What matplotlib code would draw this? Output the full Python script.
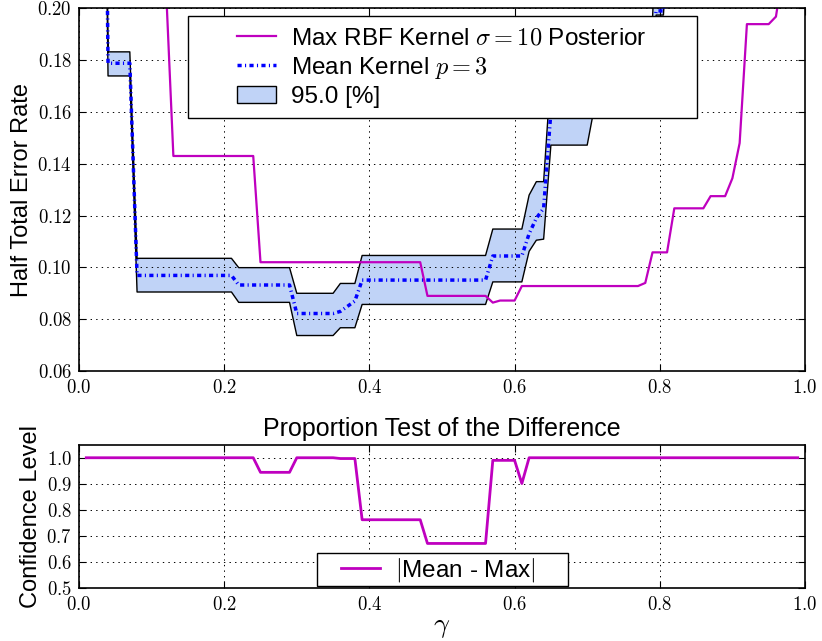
import numpy as np
import matplotlib
matplotlib.use("Agg")
import matplotlib.pyplot as plt
from matplotlib.patches import Rectangle
from matplotlib.ticker import FormatStrFormatter, MultipleLocator

# --- top panel: half total error rate vs gamma ---
max_g = [0.11, 0.12, 0.13, 0.24, 0.25, 0.47, 0.48, 0.56, 0.57, 0.58, 0.60, 0.61, 0.77,
         0.78, 0.79, 0.81, 0.82, 0.86, 0.87, 0.89, 0.90, 0.91, 0.92, 0.95, 0.96, 0.97]
max_hter = [0.32, 0.207, 0.143, 0.143, 0.102, 0.102, 0.089, 0.089, 0.0864, 0.0872, 0.0872,
            0.0928, 0.0928, 0.0940, 0.1058, 0.1058, 0.1228, 0.1228, 0.1275, 0.1275, 0.1344,
            0.148, 0.1939, 0.1939, 0.1968, 0.215]

band_g = [0.03, 0.04, 0.07, 0.08, 0.21, 0.22, 0.29, 0.30, 0.35, 0.36, 0.37, 0.38, 0.39, 0.56,
          0.57, 0.61, 0.62, 0.63, 0.64, 0.65, 0.70, 0.71, 0.79, 0.795, 0.805, 0.81, 1.0]
mean_lo = [0.40, 0.1739, 0.1739, 0.0905, 0.0905, 0.0865, 0.0865, 0.0737, 0.0737, 0.0767, 0.0767,
           0.0767, 0.0857, 0.0857, 0.0944, 0.0944, 0.1062, 0.1105, 0.1109, 0.1472, 0.1472, 0.162,
           0.185, 0.1974, 0.1974, 0.22, 0.25]
mean_hter = [0.45, 0.1788, 0.1788, 0.0969, 0.0969, 0.0932, 0.0932, 0.0822, 0.0822, 0.0830, 0.0850,
             0.0870, 0.0951, 0.0951, 0.1044, 0.1044, 0.1130, 0.1190, 0.1228, 0.160, 0.170, 0.175,
             0.190, 0.199, 0.199, 0.24, 0.27]
mean_hi = [0.50, 0.1832, 0.1832, 0.1035, 0.1035, 0.0999, 0.0999, 0.0900, 0.0900, 0.0938, 0.0938,
           0.0938, 0.1046, 0.1046, 0.1148, 0.1148, 0.1279, 0.1331, 0.1331, 0.175, 0.19, 0.195,
           0.196, 0.23, 0.23, 0.26, 0.29]

# --- bottom panel: proportion test confidence ---
conf_g = [0.01, 0.24, 0.25, 0.29, 0.30, 0.35, 0.36, 0.38, 0.39, 0.47, 0.48, 0.56, 0.57, 0.60,
          0.61, 0.62, 0.99]
conf = [1.0, 1.0, 0.944, 0.944, 1.0, 1.0, 0.997, 0.997, 0.762, 0.762, 0.671, 0.671, 0.990, 0.990,
        0.901, 1.0, 1.0]

MAG = "#bf00bf"
FILL = "#c0d3f7"

plt.rcParams.update({
    "font.family": ["Liberation Sans", "DejaVu Sans"],
    "mathtext.fontset": "cm",
    "lines.scale_dashes": False,
    "xtick.direction": "in", "ytick.direction": "in",
    "xtick.top": True, "ytick.right": True,
    "xtick.major.size": 5, "ytick.major.size": 5,
    "axes.linewidth": 1.2,
})

fig = plt.figure(figsize=(8.22, 6.41), dpi=100)
ax = fig.add_axes([0.0961, 0.4212, 0.8832, 0.5658])
ax2 = fig.add_axes([0.0961, 0.0827, 0.8832, 0.2235])

ax.fill_between(band_g, mean_lo, mean_hi, facecolor=FILL, edgecolor="k", lw=1.0,
                zorder=1, label="95.0 [%]")
ax.plot(max_g, max_hter, color=MAG, lw=1.6, zorder=2,
        label=r"Max RBF Kernel $\sigma=10$ Posterior")
ax.plot(band_g, mean_hter, color="b", lw=2.5, ls=(0, (3.0, 2.4, 0.8, 2.4)), zorder=3,
        label=r"Mean Kernel $p=3$")

ax.set_xlim(0, 1)
ax.set_ylim(0.06, 0.20)
ax.yaxis.set_major_locator(MultipleLocator(0.02))
ax.xaxis.set_major_locator(MultipleLocator(0.2))
ax.yaxis.set_major_formatter(FormatStrFormatter(r"$%.2f$"))
ax.xaxis.set_major_formatter(FormatStrFormatter(r"$%.1f$"))
ax.set_ylabel("Half Total Error Rate", fontsize=17, labelpad=3)
ax.grid(True, color="k", ls=(0, (1, 3)), lw=0.7)

h, l = ax.get_legend_handles_labels()
order = [1, 2, 0]
ax.add_patch(Rectangle((0.150, 0.6984), 0.701, 0.2804, transform=ax.transAxes,
                       facecolor="white", edgecolor="k", lw=1.0, zorder=4))
ax.legend([h[i] for i in order], [l[i] for i in order], loc="upper center",
          bbox_to_anchor=(0.5, 0.948), frameon=False, fontsize=17.5, borderpad=0,
          borderaxespad=0, handlelength=1.58, handletextpad=0.62, labelspacing=0.22)

ax2.plot(conf_g, conf, color=MAG, lw=2.0, label=r"$|$Mean - Max$|$")
ax2.set_xlim(0, 1)
ax2.set_ylim(0.5, 1.05)
ax2.yaxis.set_major_locator(MultipleLocator(0.1))
ax2.xaxis.set_major_locator(MultipleLocator(0.2))
ax2.yaxis.set_major_formatter(FormatStrFormatter(r"$%.1f$"))
ax2.xaxis.set_major_formatter(FormatStrFormatter(r"$%.1f$"))
ax2.set_ylabel("Confidence Level", fontsize=17, labelpad=3)
ax2.set_xlabel(r"$\gamma$", fontsize=20, labelpad=0)
ax2.set_title("Proportion Test of the Difference", fontsize=18, pad=6)
ax2.grid(True, color="k", ls=(0, (1, 3)), lw=0.7)
ax2.add_patch(Rectangle((0.3274, 0.014), 0.3466, 0.228, transform=ax2.transAxes,
                        facecolor="white", edgecolor="k", lw=1.0, zorder=4))
ax2.legend(loc="center", bbox_to_anchor=(0.495, 0.126), frameon=False, fontsize=17.5,
           borderpad=0, borderaxespad=0, handlelength=1.58, handletextpad=0.62)

for a in (ax, ax2):
    a.tick_params(labelsize=13.5, pad=5)
    a.tick_params(axis="x", pad=6)

fig.savefig("out.png", dpi=100, facecolor="white")
